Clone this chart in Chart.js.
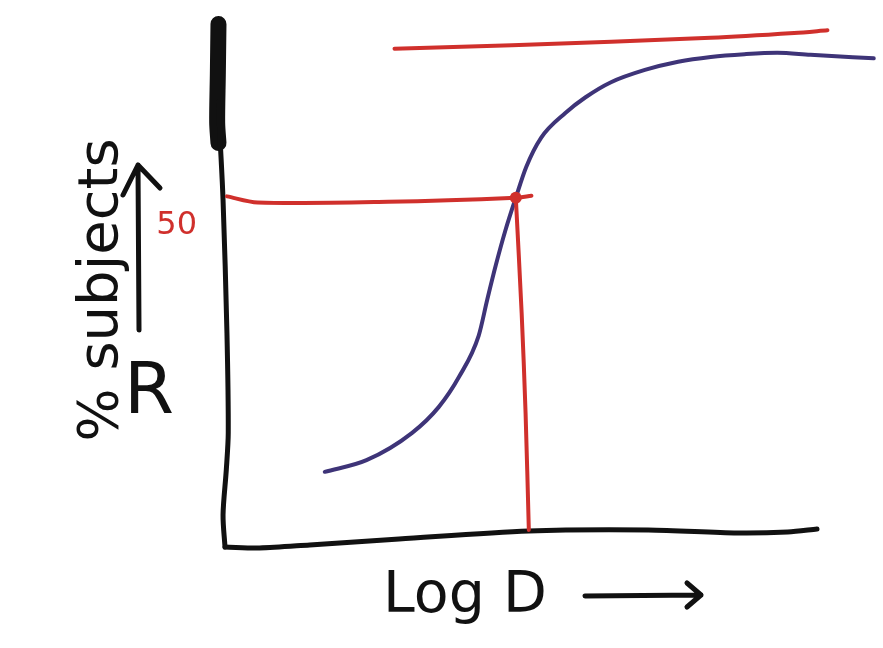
<!DOCTYPE html>
<html>
<head>
<meta charset="utf-8">
<title>Log dose - response</title>
<script src="https://cdn.jsdelivr.net/npm/chart.js@4.4.1/dist/chart.umd.min.js"></script>
<style>
  html, body { margin: 0; padding: 0; background: #fff; }
  #wrap { width: 883px; height: 648px; position: relative; }
</style>
</head>
<body>
<div id="wrap"><canvas id="doseChart"></canvas></div>
<script>
// --- data: x = log dose, y = % subjects responding ---
const curveX = [1.53, 2.17, 2.87, 3.28, 3.59, 3.89, 4.02, 4.15, 4.30, 4.46, 4.62, 4.85, 5.22, 5.53, 5.92, 6.44, 6.95, 7.45, 7.97, 8.47, 8.98, 9.95];
const curveY = [9.9, 11.6, 15.6, 19.4, 23.8, 29.8, 35.0, 40.0, 45.2, 50.0, 54.5, 58.8, 62.4, 64.7, 66.9, 68.7, 69.9, 70.6, 71.0, 71.2, 70.9, 70.4];

// maximal response line
const maxLineX = [2.6, 4.4, 7.45, 8.73, 9.24];
const maxLineY = [71.8, 72.3, 73.4, 74.1, 74.5];

// 50% line and the dose that gives it
const halfLineX = [0.03, 0.5, 2.5, 4.46, 4.7];
const halfLineY = [50.2, 49.3, 49.4, 50, 50.3];
const ed50X = [4.46, 4.55, 4.61, 4.66];
const ed50Y = [50, 33.1, 18.5, 1.4];
const ed50Point = [4.46, 50];

// hand drawn axes (the y axis runs top to bottom)
const yCapX = [-0.1, -0.11, -0.12, -0.1];
const yCapY = [75.4, 68, 61, 58];
const yAxisX = [-0.1, -0.08, -0.03, 0.03, 0.05, 0.02, -0.03, 0];
const yAxisY = [64, 59.5, 49.7, 30.2, 15.6, 10.2, 3.6, -1.1];
const xAxisX = [0, 0.53, 1.3, 2.67, 4.66, 6.49, 7.86, 8.63, 9.08];
const xAxisY = [-1.1, -1.24, -0.8, 0.07, 1.24, 1.39, 0.95, 1.1, 1.54];

const yTicks = [50];

const RED = "#d0302c";
const BLUE = "#3e3478";
const INK = "#111111";

const pts = (xs, ys) => xs.map((x, i) => ({ x: x, y: ys[i] }));

function pen(data, color, width, extra) {
  return Object.assign({
    data: data,
    showLine: true,
    borderColor: color,
    borderWidth: width,
    borderCapStyle: "round",
    borderJoinStyle: "round",
    pointRadius: 0,
    tension: 0.3,
    clip: false,
  }, extra || {});
}

Chart.defaults.font.family = "'DejaVu Sans', sans-serif";
Chart.defaults.color = INK;

function arrow(ctx, x1, y1, x2, y2, headA, headB) {
  ctx.beginPath();
  ctx.moveTo(x1, y1);
  ctx.lineTo(x2, y2);
  ctx.moveTo(headA[0], headA[1]);
  ctx.lineTo(x2, y2);
  ctx.lineTo(headB[0], headB[1]);
  ctx.stroke();
}

// "R" with an upward arrow beside the y axis, "Log D" with a rightward arrow under the x axis
const axisNotes = {
  id: "axisNotes",
  afterDraw(chart) {
    const { ctx, chartArea } = chart;
    const L = chartArea.left;
    const T = chartArea.top;
    const B = chartArea.bottom;
    ctx.save();
    ctx.strokeStyle = INK;
    ctx.fillStyle = INK;
    ctx.lineWidth = 5;
    ctx.lineCap = "round";
    ctx.lineJoin = "round";

    const ax = L - 87;
    arrow(ctx, ax + 1, T + 310, ax, T + 145, [ax - 15, T + 175], [ax + 22, T + 168]);
    ctx.font = "72px 'DejaVu Sans'";
    ctx.textAlign = "center";
    ctx.textBaseline = "alphabetic";
    ctx.fillText("R", L - 76, T + 393);

    ctx.font = "57px 'DejaVu Sans'";
    ctx.textAlign = "left";
    ctx.fillText("Log D", L + 158, B + 52);
    const ay = B + 36;
    arrow(ctx, L + 360, ay, L + 476, ay - 1, [L + 462, ay - 13], [L + 462, ay + 11]);
    ctx.restore();
  },
};

const ctx = document.getElementById("doseChart").getContext("2d");
new Chart(ctx, {
  type: "scatter",
  data: {
    datasets: [
      { data: [{ x: ed50Point[0], y: ed50Point[1] }], pointRadius: 6, pointBackgroundColor: RED, pointBorderWidth: 0, order: 0 },
      pen(pts(ed50X, ed50Y), RED, 4, { order: 1 }),
      pen(pts(halfLineX, halfLineY), RED, 4, { order: 2 }),
      pen(pts(curveX, curveY), BLUE, 4, { order: 3, cubicInterpolationMode: "monotone" }),
      pen(pts(maxLineX, maxLineY), RED, 4, { order: 4 }),
      pen(pts(yAxisX, yAxisY), INK, 5, { order: 5 }),
      pen(pts(yCapX, yCapY), INK, 16, { order: 6 }),
      pen(pts(xAxisX, xAxisY), INK, 5, { order: 7 }),
    ],
  },
  options: {
    responsive: true,
    maintainAspectRatio: false,
    animation: false,
    layout: { padding: { left: 20, top: 20, right: 3, bottom: 10 } },
    plugins: { legend: { display: false }, tooltip: { enabled: false } },
    scales: {
      x: {
        type: "linear",
        min: 0,
        max: 10,
        grid: { display: false, drawTicks: false },
        border: { display: false },
        ticks: { display: false },
        afterFit(scale) {
          scale.height = 78;
          scale.paddingLeft = 0;
          scale.paddingRight = 0;
        },
      },
      y: {
        type: "linear",
        min: -3,
        max: 76,
        grid: { display: false, drawTicks: false },
        border: { display: false },
        afterBuildTicks(scale) { scale.ticks = yTicks.map((v) => ({ value: v })); },
        ticks: {
          color: RED,
          font: { size: 32 },
          padding: 28,
          labelOffset: 28,
        },
        title: {
          display: true,
          text: "% subjects",
          font: { size: 56 },
          padding: { top: 49, bottom: 0 },
        },
        afterFit(scale) {
          scale.width = 205;
          scale.paddingTop = 0;
          scale.paddingBottom = 0;
        },
      },
    },
  },
  plugins: [axisNotes],
});
</script>
</body>
</html>
